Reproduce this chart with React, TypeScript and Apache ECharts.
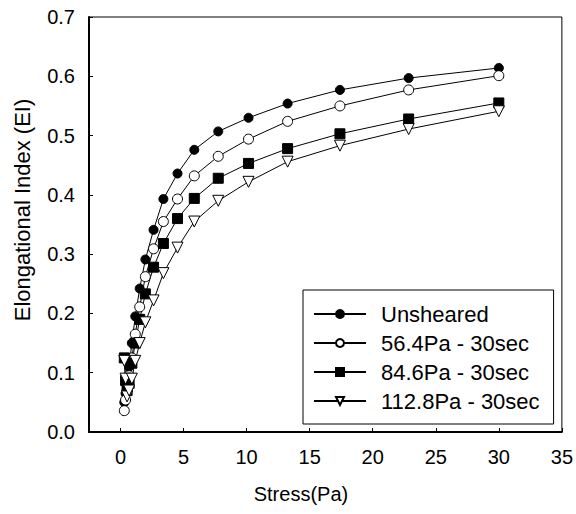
import React, { useEffect, useRef } from "react";
import * as echarts from "echarts";

const stress = [0.3, 0.4, 0.52, 0.68, 0.9, 1.17, 1.52, 1.97, 2.62, 3.4, 4.52, 5.85, 7.75, 10.15, 13.25, 17.4, 22.85, 30];
const unsheared = [0.05, 0.065, 0.085, 0.11, 0.15, 0.195, 0.242, 0.291, 0.341, 0.393, 0.436, 0.476, 0.507, 0.53, 0.554, 0.577, 0.597, 0.614];
const sheared564 = [0.036, 0.054, 0.07, 0.095, 0.125, 0.165, 0.211, 0.262, 0.309, 0.355, 0.393, 0.432, 0.465, 0.494, 0.524, 0.55, 0.577, 0.601];
const sheared846 = [0.125, 0.087, 0.07, 0.082, 0.116, 0.15, 0.19, 0.233, 0.278, 0.318, 0.36, 0.394, 0.428, 0.453, 0.478, 0.503, 0.528, 0.555];
const sheared1128 = [0.12, 0.09, 0.06, 0.07, 0.09, 0.12, 0.15, 0.185, 0.222, 0.268, 0.311, 0.355, 0.39, 0.422, 0.456, 0.483, 0.511, 0.541];

const seriesNames = ["Unsheared", "56.4Pa - 30sec", "84.6Pa - 30sec", "112.8Pa - 30sec"];
const xTicks = [0, 5, 10, 15, 20, 25, 30, 35];

const FONT = "'Liberation Sans', Arial, sans-serif";

export default function App() {
  const ref = useRef<HTMLDivElement>(null);
  useEffect(() => {
    if (!ref.current) return;
    const chart = echarts.init(ref.current, null, { renderer: "svg" });
    const pts = (ys: number[]) => stress.map((x, i) => [x, ys[i]]);
    const lineStyle = { color: "#000", width: 1 };
    const mk = (name: string, ys: number[], symbol: string, filled: boolean, size: number, rotate = 0) => ({
      type: "line",
      name,
      data: pts(ys),
      symbol,
      symbolSize: size,
      symbolRotate: rotate,
      showAllSymbol: true,
      lineStyle,
      itemStyle: filled
        ? { color: "#000", borderColor: "#000", borderWidth: 1 }
        : { color: "#fff", borderColor: "#000", borderWidth: 1 },
      z: 3,
    });
    chart.setOption({
      animation: false,
      backgroundColor: "#fff",
      textStyle: { fontFamily: FONT, color: "#000" },
      grid: {
        left: 89,
        right: 14,
        top: 17,
        bottom: 82,
        show: true,
        borderColor: "#000",
        borderWidth: 1,
        backgroundColor: "transparent",
      },
      legend: {
        orient: "vertical",
        left: 303,
        top: 290,
        padding: [13, 14, 12, 10],
        backgroundColor: "#fff",
        borderColor: "#000",
        borderWidth: 1,
        borderRadius: 0,
        itemWidth: 52,
        itemHeight: 10,
        itemGap: 7,
        textStyle: { fontFamily: FONT, fontSize: 22, color: "#000", padding: [0, 0, 0, 10] },
        data: seriesNames,
      },
      xAxis: {
        type: "value",
        min: -2.5,
        max: 35,
        name: "Stress(Pa)",
        nameLocation: "middle",
        nameGap: 52,
        nameTextStyle: { fontFamily: FONT, fontSize: 20, color: "#000", padding: [0, 49, 0, 0] },
        axisLine: { show: true, onZero: false, lineStyle: { color: "#000", width: 2 } },
        axisTick: { show: true, inside: true, length: 4, customValues: xTicks, lineStyle: { color: "#000" } },
        axisLabel: { customValues: xTicks, fontFamily: FONT, fontSize: 20, color: "#000", margin: 15 },
        splitLine: { show: false },
      },
      yAxis: {
        type: "value",
        min: 0,
        max: 0.7,
        interval: 0.1,
        name: "Elongational Index (EI)",
        nameLocation: "middle",
        nameGap: 56,
        nameRotate: 90,
        nameTextStyle: { fontFamily: FONT, fontSize: 22, color: "#000", padding: [0, 0, 0, 29] },
        axisLine: { show: true, onZero: false, lineStyle: { color: "#000", width: 2 } },
        axisTick: { show: true, inside: true, length: 4, lineStyle: { color: "#000" } },
        axisLabel: {
          fontFamily: FONT,
          fontSize: 20,
          color: "#000",
          margin: 14,
          formatter: (v: number) => v.toFixed(1),
        },
        splitLine: { show: false },
      },
      series: [
        mk(seriesNames[0], unsheared, "circle", true, 9),
        mk(seriesNames[1], sheared564, "circle", false, 10),
        mk(seriesNames[2], sheared846, "rect", true, 10),
        mk(seriesNames[3], sheared1128, "triangle", false, 11, 180),
      ],
    });
    return () => chart.dispose();
  }, []);
  return <div ref={ref} style={{ position: "fixed", left: 0, top: 0, width: 576, height: 514, background: "#fff" }} />;
}
